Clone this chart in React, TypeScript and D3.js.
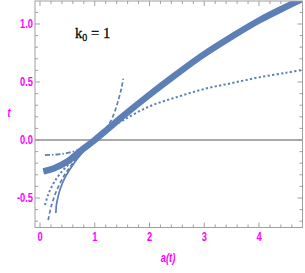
import * as d3 from "d3";

// curves: a(t) on x, t on y
const thickA = [0.06, 0.25, 0.5, 0.75, 1.0, 1.25, 1.5, 2, 2.5, 3, 3.5, 4, 4.5, 4.85];
const thickT = [-0.27, -0.245, -0.185, -0.09, 0.0, 0.1, 0.2, 0.39, 0.57, 0.74, 0.89, 1.03, 1.15, 1.23];

const dottedA = [0.09, 0.15, 0.25, 0.35, 0.5, 0.65, 0.8, 1.0, 1.2, 1.5, 2, 2.5, 3, 3.5, 4, 4.5, 4.8];
const dottedT = [-0.56, -0.47, -0.37, -0.3, -0.22, -0.15, -0.085, 0.0, 0.075, 0.165, 0.29, 0.37, 0.44, 0.49, 0.54, 0.58, 0.605];

const dashedA = [0.15, 0.2, 0.3, 0.45, 0.6, 0.8, 1.0, 1.15, 1.27, 1.37, 1.44, 1.49, 1.52];
const dashedT = [-0.69, -0.58, -0.44, -0.3, -0.2, -0.085, 0.0, 0.07, 0.145, 0.25, 0.36, 0.45, 0.53];

const solidA = [0.29, 0.3, 0.33, 0.37, 0.45, 0.55, 0.7, 0.85, 1.0, 1.2, 1.4];
const solidT = [-0.63, -0.56, -0.49, -0.42, -0.33, -0.25, -0.15, -0.07, 0.0, 0.08, 0.16];

const dashDotA = [0.09, 0.2, 0.3, 0.4, 0.5, 0.6, 0.7, 0.8];
const dashDotT = [-0.13, -0.128, -0.125, -0.12, -0.112, -0.1, -0.085, -0.065];

const xTicks = [0, 1, 2, 3, 4];
const yTicks = [-0.5, 0.0, 0.5, 1.0];

const W = 305;
const H = 273;
const left = 35;
const right = 302.5;
const top = 1;
const bottom = 227.5;

const blue = "#5b7fb6";
const magenta = "#ff00ff";
const frameCol = "#a0a0a0";
const tickFont = "'Liberation Sans', Arial, sans-serif";

// narrow bold label, squeezed horizontally like the original
const Label = ({ x, y, anchor, italic, children }: any) => (
  <text
    transform={`translate(${x},${y}) scale(0.78,1)`}
    textAnchor={anchor}
    fontStyle={italic ? "italic" : "normal"}
  >
    {children}
  </text>
);

export default function App() {
  const x = d3.scaleLinear([-0.0913, 4.7945], [left, right]);
  const y = d3.scaleLinear([-0.7543, 1.1983], [bottom, top]);

  const path = (as: number[], ts: number[]) =>
    d3
      .line<number>()
      .x((a) => x(a))
      .y((_, i) => y(ts[i]))
      .curve(d3.curveCatmullRom)(as) ?? "";

  const xMinor = d3.range(0, 4.8, 0.2).filter((v) => Math.abs(v - Math.round(v)) > 1e-6);
  const yMinor = d3.range(-0.7, 1.2, 0.1).filter((v) => Math.abs(v * 2 - Math.round(v * 2)) > 1e-6);

  return (
    <svg width={W} height={H} style={{ position: "absolute", left: 0, top: 0 }}>
      <defs>
        <clipPath id="plot">
          <rect x={left} y={top} width={right - left} height={bottom - top} />
        </clipPath>
      </defs>
      <rect width={W} height={H} fill="white" />
      {/* zero line */}
      <line x1={left} x2={right} y1={y(0)} y2={y(0)} stroke="#555" strokeWidth={1} />
      {/* ticks */}
      <g stroke={frameCol} strokeWidth={1}>
        {xTicks.map((v) => (
          <g key={"xt" + v}>
            <line x1={x(v)} x2={x(v)} y1={bottom} y2={bottom - 5} />
            <line x1={x(v)} x2={x(v)} y1={top} y2={top + 5} />
          </g>
        ))}
        {xMinor.map((v) => (
          <g key={"xm" + v}>
            <line x1={x(v)} x2={x(v)} y1={bottom} y2={bottom - 3} />
            <line x1={x(v)} x2={x(v)} y1={top} y2={top + 3} />
          </g>
        ))}
        {yTicks.map((v) => (
          <g key={"yt" + v}>
            <line x1={left} x2={left + 5} y1={y(v)} y2={y(v)} />
            <line x1={right} x2={right - 5} y1={y(v)} y2={y(v)} />
          </g>
        ))}
        {yMinor.map((v) => (
          <g key={"ym" + v}>
            <line x1={left} x2={left + 3} y1={y(v)} y2={y(v)} />
            <line x1={right} x2={right - 3} y1={y(v)} y2={y(v)} />
          </g>
        ))}
      </g>
      <g clipPath="url(#plot)" fill="none" stroke={blue}>
        <path d={path(solidA, solidT)} strokeWidth={1.7} />
        <path d={path(dashedA, dashedT)} strokeWidth={1.7} strokeDasharray="4,2.5" />
        <path d={path(dottedA, dottedT)} strokeWidth={2} strokeDasharray="2.2,2.3" />
        <path d={path(dashDotA, dashDotT)} strokeWidth={1.8} strokeDasharray="5,2,1.5,2" />
        <path d={path(thickA, thickT)} strokeWidth={6.5} />
      </g>
      <rect x={left} y={top} width={right - left} height={bottom - top} fill="none" stroke={frameCol} strokeWidth={1} />
      {/* tick labels */}
      <g fill={magenta} fontFamily={tickFont} fontWeight="bold" fontSize={12}>
        {xTicks.map((v) => (
          <Label key={"xl" + v} x={x(v)} y={bottom + 13} anchor="middle">
            {v}
          </Label>
        ))}
        {yTicks.map((v) => (
          <Label key={"yl" + v} x={left - 2} y={y(v) + 4} anchor="end">
            {v.toFixed(1)}
          </Label>
        ))}
        <Label x={168} y={262} anchor="middle" italic>
          a(t)
        </Label>
        <Label x={9} y={117} anchor="middle" italic>
          t
        </Label>
      </g>
      <text
        transform="translate(75,37.5) scale(0.95,1)"
        fontFamily="'Liberation Serif', serif"
        fontSize={15.5}
        fill="#000"
        stroke="#000"
        strokeWidth={0.25}
      >
        k<tspan fontSize={10.5} dy={3}>0</tspan>
        <tspan dy={-3}> = 1</tspan>
      </text>
    </svg>
  );
}
